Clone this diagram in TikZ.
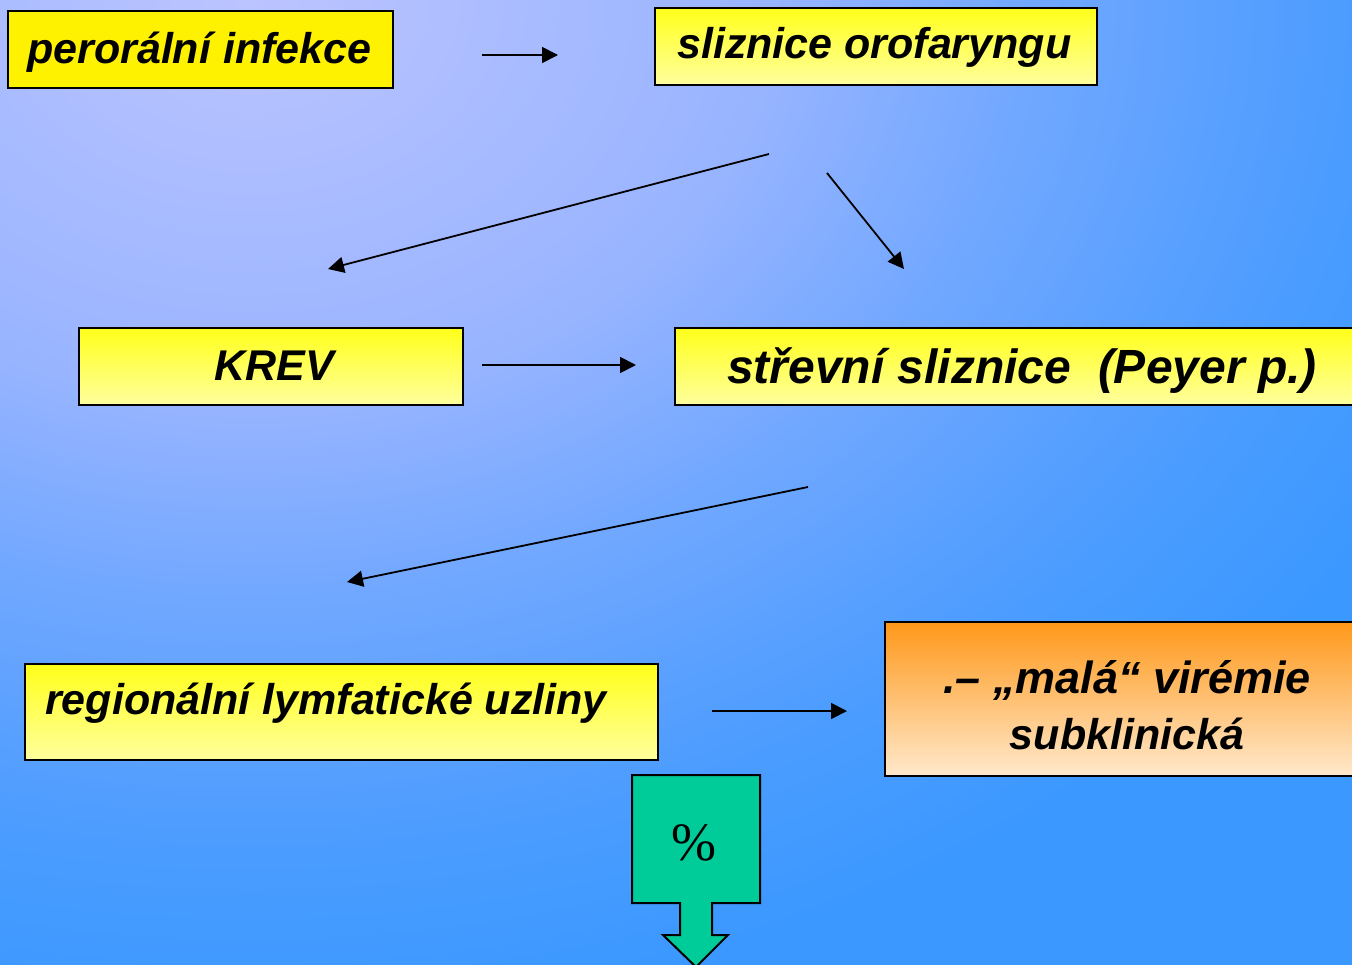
\documentclass[tikz,border=0pt]{standalone}
\usepackage{fontspec}
\setmainfont{Liberation Sans}
\newfontfamily\pctfont{Liberation Serif}
\usetikzlibrary{arrows.meta}
\definecolor{bgA}{HTML}{BCC4FF}
\definecolor{bgB}{HTML}{98B4FF}
\definecolor{bgC}{HTML}{72A8FF}
\definecolor{bgD}{HTML}{4E9DFF}
\definecolor{bgE}{HTML}{3A98FF}
\definecolor{boxtop}{HTML}{FFFF1A}
\definecolor{boxbot}{HTML}{FFFF9E}
\definecolor{orgtop}{HTML}{FF981A}
\definecolor{orgbot}{HTML}{FFE9CC}
\definecolor{callgreen}{HTML}{00CC99}
\pgfdeclareradialshading{bgrad}{\pgfpoint{0bp}{0bp}}{color(0bp)=(bgA); color(5bp)=(bgB); color(7.4bp)=(bgC); color(10.3bp)=(bgD); color(12.8bp)=(bgE); color(50bp)=(bgE)}
\tikzset{
  box/.style={draw=black, line width=2pt, rectangle, inner sep=0pt, anchor=north west},
  ybox/.style={box, top color=boxtop, bottom color=boxbot},
  lbl/.style={font=\fontsize{43}{50}\selectfont\bfseries\itshape, inner sep=0pt},
  biglbl/.style={font=\fontsize{48}{56}\selectfont\bfseries\itshape, inner sep=0pt},
  arr/.style={line width=1.8pt, -{Triangle[length=16pt,width=16pt]}}
}
\begin{document}
\begin{tikzpicture}[x=1pt,y=-1pt]
\useasboundingbox (0,0) rectangle (1352,964);
\clip (0,0) rectangle (1352,964);
\begin{scope}[shift={(250,0)},xscale=1.3]
  \shade[shading=bgrad] (0,0) circle (2000pt);
\end{scope}

% boxes
\node[box, fill=yellow, minimum width=385pt, minimum height=77pt] (b1) at (7,10) {};
\node[lbl, anchor=base west] (t1) at (27,63) {perorální infekce};

\node[ybox, minimum width=442pt, minimum height=77pt] (b2) at (654,7) {};
\node[lbl, anchor=base west] (t2) at (677,58) {sliznice orofaryngu};

\node[ybox, minimum width=384pt, minimum height=77pt] (b3) at (78,327) {};
\node[lbl, anchor=base] (t3) at (274,380) {KREV};

\node[ybox, minimum width=700pt, minimum height=77pt] (b4) at (674,327) {};
\node[biglbl, anchor=base west] (t4) at (727,383) {střevní sliznice\ \ (Peyer p.)};

\node[ybox, minimum width=633pt, minimum height=96pt] (b5) at (24,663) {};
\node[lbl, anchor=base west] (t5) at (45,714) {regionální lymfatické uzliny};

\node[box, top color=orgtop, bottom color=orgbot, minimum width=490pt, minimum height=154pt] (b6) at (884,621) {};
\node[lbl, font=\fontsize{45}{52}\selectfont\bfseries\itshape, anchor=base] (t6a) at (1127,693) {.– „malá“ virémie};
\node[lbl, anchor=base] (t6b) at (1127,749) {subklinická};

% callout arrow
\draw[line width=2pt, fill=callgreen] (632,775) -- (760,775) -- (760,903) -- (712,903) -- (712,935) -- (728,935) -- (696,967) -- (663,935) -- (680,935) -- (680,903) -- (632,903) -- cycle;
\node[font=\pctfont\fontsize{54}{60}\selectfont, inner sep=0pt] (pct) at (694,843) {\%};

% connectors
\coordinate (a1s) at (482,55);  \coordinate (a1e) at (558,55);
\coordinate (a2s) at (769,154); \coordinate (a2e) at (328,269);
\coordinate (a3s) at (827,173); \coordinate (a3e) at (904,269);
\coordinate (a4s) at (482,365); \coordinate (a4e) at (636,365);
\coordinate (a5s) at (808,487); \coordinate (a5e) at (347,582);
\coordinate (a6s) at (712,711); \coordinate (a6e) at (847,711);
\draw[arr] (a1s) -- (a1e);
\draw[arr] (a2s) -- (a2e);
\draw[arr] (a3s) -- (a3e);
\draw[arr] (a4s) -- (a4e);
\draw[arr] (a5s) -- (a5e);
\draw[arr] (a6s) -- (a6e);
\end{tikzpicture}
\end{document}
